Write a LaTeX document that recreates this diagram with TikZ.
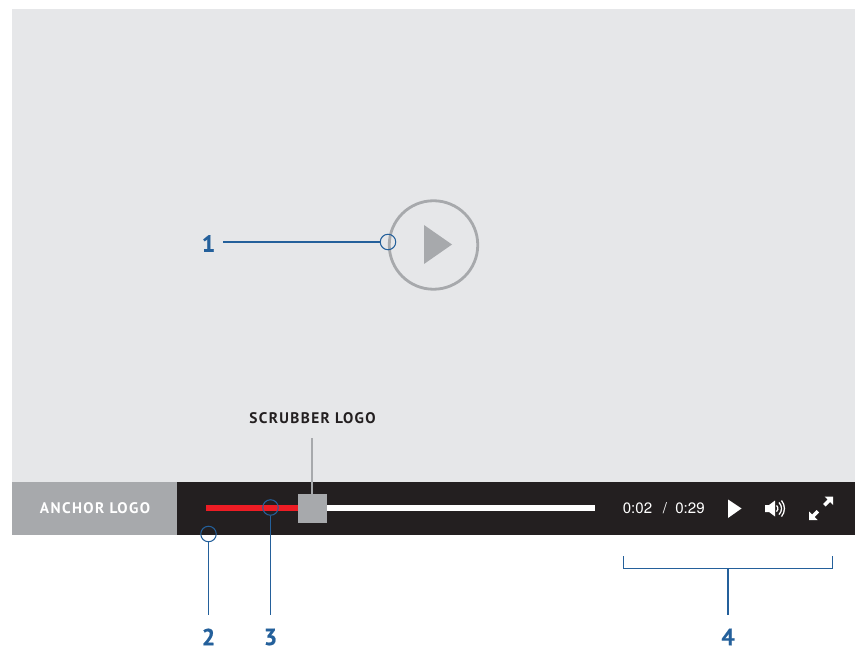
\documentclass[tikz,border=0pt]{standalone}
\usepackage{fontspec}
\setmainfont{Fira Sans}
\newfontfamily\capsfont[LetterSpace=9]{PT Sans Bold}
\newfontfamily\numfont[FakeBold=0.6]{PT Sans Bold}
\newfontfamily\timefont{TeX Gyre Heros}
\definecolor{bgpanel}{HTML}{E6E7E9}
\definecolor{barblack}{HTML}{231F20}
\definecolor{midgray}{HTML}{A7A9AC}
\definecolor{callblue}{HTML}{24609B}
\definecolor{trackred}{HTML}{ED1C24}
\tikzset{
  x=0.75pt,y=-0.75pt,
  callout/.style={circle,draw=callblue,line width=0.8pt,inner sep=0pt,minimum size=15.5pt*0.75,fill=none},
  callline/.style={draw=callblue,line width=0.95pt},
  numlabel/.style={text=callblue,font=\numfont\fontsize{17.5}{18}\selectfont,inner sep=0pt},
  capslabel/.style={font=\capsfont\fontsize{11.5}{12}\selectfont,inner sep=0pt},
  timelabel/.style={text=white,font=\timefont\fontsize{11.3}{13}\selectfont,inner sep=0pt},
  icon/.style={fill=white,draw=none},
  wave/.style={draw=white,line width=0.95pt}
}
\begin{document}
\begin{tikzpicture}
\useasboundingbox (0,0) rectangle (860,648);
\fill[white] (0,0) rectangle (860,648);
\fill[bgpanel] (12,9) rectangle (855,482);
\fill[barblack] (177,482) rectangle (855,535);
\fill[midgray] (12,482) rectangle (177,535);
\node[capslabel,text=white] (anchor) at (95,508.5) {ANCHOR LOGO};
% scrub track
\fill[white] (298,505) rectangle (595,511);
\fill[trackred] (206,505) rectangle (298,511);
\node[fill=midgray,minimum size=29pt*0.75,inner sep=0pt] (scrub) at (312.5,508.5) {};
\node[capslabel,text=barblack] (scrubtext) at (312.5,418.5) {SCRUBBER LOGO};
\coordinate (scrubtop) at (312,438);
\draw[midgray,line width=0.95pt] (scrubtop) -- (scrub.north -| scrubtop);
% big play
\node[circle,draw=midgray,line width=2.1pt,minimum size=88.5pt*0.75,inner sep=0pt] (bigplay) at (433.5,245) {};
\fill[midgray] (424,225) -- (452,244.5) -- (424,264) -- cycle;
% callouts
\node[callout] (c1) at (388,242) {};
\node[callout] (c2) at (208.5,534) {};
\node[callout] (c3) at (270.5,507.5) {};
\node[numlabel] (n1) at (208.5,243.5) {1};
\node[numlabel] (n2) at (208.5,637) {2};
\node[numlabel] (n3) at (270.5,637) {3};
\node[numlabel] (n4) at (728,637) {4};
\coordinate (e1) at (223,242);
\coordinate (e2) at (208.5,615);
\coordinate (e3) at (270.5,615);
\coordinate (e4) at (728,615);
\draw[callline] (e1) -- (c1.west);
\draw[callline] (c2.south) -- (e2);
\draw[callline] (c3.south) -- (e3);
% bracket
\coordinate (bl) at (623.5,556);
\coordinate (br) at (832.5,556);
\coordinate (bj) at (728,568.5);
\draw[callline] (bl) |- (bj) -| (br);
\draw[callline] (bj) -- (e4);
% time
\node[timelabel] (t1) at (637.5,508.5) {0:02};
\node[timelabel] (t2) at (665,508.5) {/};
\node[timelabel] (t3) at (690,508.5) {0:29};
% play icon
\fill[icon] (728,499.5) -- (741.5,508.5) -- (728,518) -- cycle;
% speaker
\fill[icon] (765,505) -- (769,505) -- (775,500.5) -- (775,516.5) -- (769,512) -- (765,512) -- cycle;
\draw[wave] (776.5,505.5) arc[start angle=-50,end angle=50,radius=4];
\draw[wave] (779,502.5) arc[start angle=-45,end angle=45,radius=8.5];
\draw[wave] (781.5,500.5) arc[start angle=-40,end angle=40,radius=12.5];
% fullscreen
\fill[icon] (833,496.5) -- (833,505) -- (830,502) -- (825.5,506.5) -- (823,504) -- (827.5,499.5) -- (824.5,496.5) -- cycle;
\fill[icon] (809,520) -- (809,511.5) -- (812,514.5) -- (816.5,510) -- (819,512.5) -- (814.5,517) -- (817.5,520) -- cycle;
\end{tikzpicture}
\end{document}
